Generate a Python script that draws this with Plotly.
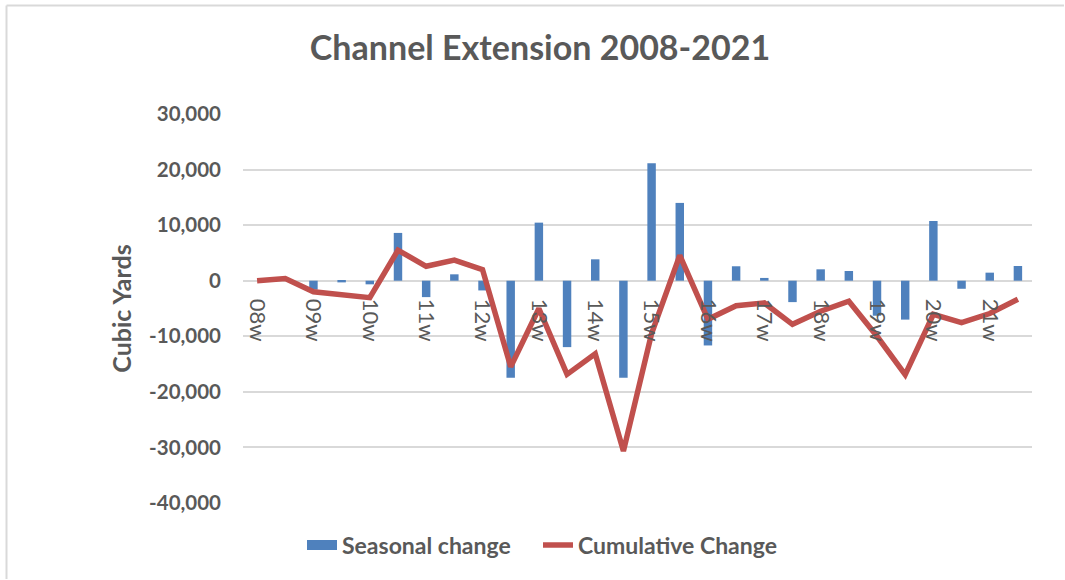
import plotly.graph_objects as go

# Survey periods: winter (w) and summer (s) for each year 2008-2021
periods = ["08w", "08s", "09w", "09s", "10w", "10s", "11w", "11s", "12w", "12s",
           "13w", "13s", "14w", "14s", "15w", "15s", "16w", "16s", "17w", "17s",
           "18w", "18s", "19w", "19s", "20w", "20s", "21w", "21s"]

# Seasonal volume change (cubic yards)
seasonal_change = [0, 400, -1600, -300, -650, 8600, -2950, 1150, -1750, -17450,
                   10450, -11950, 3850, -17450, 21150, 14000, -11650, 2600, 500, -3850,
                   2050, 1750, -6300, -7000, 10750, -1450, 1450, 2650]

# Running total of the seasonal changes (cubic yards)
cumulative_change = [0, 400, -2000, -2450, -3050, 5500, 2600, 3700, 2000, -15500,
                     -5000, -16850, -13150, -30650, -9500, 4550, -6950, -4500, -4000, -7850,
                     -5500, -3700, -10000, -16900, -6050, -7550, -5900, -3350]

# Tick labels shown on the category axis (winter surveys only)
tick_periods = ["08w", "09w", "10w", "11w", "12w", "13w", "14w",
                "15w", "16w", "17w", "18w", "19w", "20w", "21w"]

y_ticks = [30000, 20000, 10000, 0, -10000, -20000, -30000, -40000]
y_min, y_max = -40000, 30000

FONT = "Lato"
TEXT = "#595959"
BLUE = "#4f81bd"
RED = "#c0504d"

fig = go.Figure()
fig.add_trace(go.Bar(
    x=periods, y=seasonal_change, name="Seasonal change",
    marker=dict(color=BLUE, line=dict(width=0)),
    legendgroup="seasonal", showlegend=False,
))
# wide rectangular key for the bar series
fig.add_trace(go.Scatter(
    x=[None], y=[None], name="<b>Seasonal change</b>", mode="lines",
    line=dict(color=BLUE, width=11), legendgroup="seasonal", legend="legend",
))
fig.add_trace(go.Scatter(
    x=periods, y=cumulative_change, name="<b>Cumulative Change</b>", mode="lines",
    line=dict(color=RED, width=5.5, shape="linear"), legend="legend2",
))

zero_pos = (0 - y_min) / (y_max - y_min)
legend_style = dict(orientation="h", xanchor="left", y=-0.108, yanchor="middle",
                    font=dict(family=FONT, size=23, color=TEXT), bgcolor="rgba(0,0,0,0)")

fig.update_layout(
    width=1065, height=580,
    margin=dict(l=243, r=33, t=114, b=77),
    paper_bgcolor="white", plot_bgcolor="white",
    bargap=0.7,
    font=dict(family=FONT, color=TEXT),
    title=dict(text="<b>Channel Extension 2008-2021</b>", x=540 / 1065, xanchor="center",
               y=1 - 48 / 580, yanchor="middle", yref="container",
               font=dict(family=FONT, size=34, color=TEXT)),
    xaxis=dict(
        type="category", categoryorder="array", categoryarray=periods,
        tickmode="array", tickvals=tick_periods, ticktext=tick_periods,
        tickangle=90, tickfont=dict(family=FONT, size=22, color=TEXT),
        ticklabelstandoff=17,
        anchor="free", position=zero_pos, showline=False, ticks="",
        showgrid=False, zeroline=False,
    ),
    yaxis=dict(
        range=[y_min, y_max], tickvals=y_ticks,
        ticktext=["<b>{:,}</b>".format(v) for v in y_ticks],
        tickfont=dict(family=FONT, size=20.5, color=TEXT),
        ticklabelstandoff=21,
        showgrid=True, gridcolor="#d9d9d9", gridwidth=1.5,
        zeroline=False, showline=False, ticks="", ticklen=0,
        title=dict(text="<b>Cubic Yards</b>", font=dict(family=FONT, size=25, color=TEXT),
                   standoff=10),
        domain=[0, 1],
    ),
    legend=dict(x=(302 - 243) / 789, **legend_style),
    legend2=dict(x=(538 - 243) / 789, **legend_style),
    shapes=[
        # outer chart border (left and top edges visible)
        dict(type="line", xref="paper", yref="paper",
             x0=(6.5 - 243) / 789, x1=(6.5 - 243) / 789,
             y0=(503 - 5.5) / 389, y1=(503 - 579) / 389,
             line=dict(color="#d9d9d9", width=2)),
        dict(type="line", xref="paper", yref="paper",
             x0=(6.5 - 243) / 789, x1=(1064 - 243) / 789,
             y0=(503 - 5.5) / 389, y1=(503 - 5.5) / 389,
             line=dict(color="#d9d9d9", width=2)),
    ],
)

fig.write_html("out.html")
